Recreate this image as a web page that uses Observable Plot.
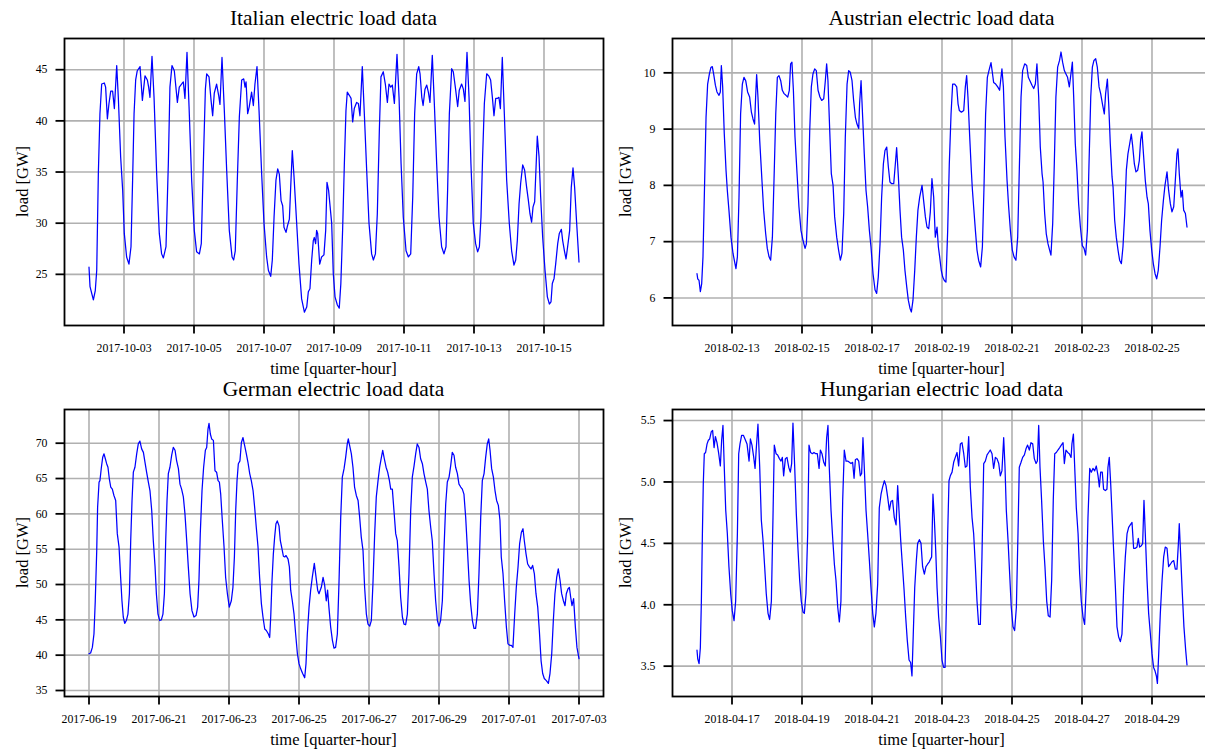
<!DOCTYPE html>
<html>
<head>
<meta charset="utf-8">
<script src="https://cdn.jsdelivr.net/npm/d3@7"></script>
<script src="https://cdn.jsdelivr.net/npm/@observablehq/plot@0.6"></script>
<style>
  html, body { margin: 0; padding: 0; background: #fff; overflow: hidden; }
  #root { position: relative; width: 1205px; height: 750px; overflow: hidden; background: #fff; }
  #root > svg, #root > figure { position: absolute; margin: 0; }
</style>
</head>
<body>
<div id="root"></div>
<script>
// ---------------- DATA (hours since first midnight, load in GW) ----------------
const italyStart = "2017-10-02";
const italyTicks = ["2017-10-03","2017-10-05","2017-10-07","2017-10-09","2017-10-11","2017-10-13","2017-10-15"];
const italyYTicks = [25, 30, 35, 40, 45];
const italyLoad = [[0,25.7],[0.7,23.8],[3,22.5],[4.3,23.4],[5.3,25.4],[6.4,34.8],[7.5,40.7],[8.7,43.6],[10.5,43.7],[11.4,43.3],[12.6,40.2],[13.7,41.7],[14.9,42.9],[16.2,42.9],[17.4,41.2],[19,45.4],[20.1,42.3],[21.7,36.5],[23.1,33.2],[24.2,29.0],[25.8,26.7],[27.4,26.0],[28.8,27.7],[29.9,34.2],[30.9,40.7],[32,44.0],[33.1,44.9],[35,45.3],[36.6,42.0],[38.4,44.4],[40,44.0],[40.9,43.3],[41.8,42.3],[43.2,46.3],[44.6,42.3],[46.4,34.8],[48.2,29.0],[49.8,27.0],[51,26.6],[52.8,27.7],[54.4,35.8],[55.5,43.3],[56.9,45.4],[58.5,44.9],[60.6,41.8],[61.9,43.3],[64,43.7],[64.7,43.8],[65.8,42.2],[67.2,46.7],[68.6,41.4],[70.4,34.2],[72.2,29.3],[73.8,27.2],[75.7,27.0],[77,28.0],[78.4,35.8],[79.8,43.1],[80.7,44.6],[82.3,44.3],[83.7,42.0],[84.8,40.5],[85.9,42.7],[87.5,43.6],[88.9,42.5],[89.8,41.6],[91.2,46.2],[92.8,41.0],[94.4,35.2],[96.2,29.3],[98.1,26.7],[99.2,26.4],[100.3,27.3],[101.7,34.2],[103.1,40.4],[104.7,44.0],[106.1,44.1],[107,43.3],[107.7,43.8],[108.8,40.7],[109.9,41.4],[111.5,42.8],[112.7,41.5],[113.8,43.6],[115.2,45.3],[116.6,41.0],[118.4,34.8],[120,30.0],[121.8,26.7],[123,25.4],[124.6,24.8],[125.7,26.4],[126.9,30.6],[128.2,34.2],[129.4,35.3],[130.5,34.8],[131.7,32.2],[132.8,31.7],[133.7,29.6],[135.1,29.1],[136.2,29.8],[137.4,30.4],[138.3,33.5],[139.4,37.1],[140.6,34.5],[142.4,30.0],[144,26.0],[145.8,22.6],[147.7,21.3],[149.3,21.8],[150.4,23.3],[151.5,23.6],[152.7,26.4],[153.8,28.3],[154.5,28.6],[155.4,28.0],[156.1,29.3],[156.8,29.0],[158.2,26.0],[159.5,26.7],[161.1,26.9],[162.3,29.3],[163.2,34.0],[164.3,33.2],[166.4,30.0],[167.5,25.1],[168.7,22.8],[170.3,22.0],[171.6,21.7],[172.7,24.1],[173.9,29.3],[175.1,35.8],[176.2,41.0],[177.1,42.8],[178.5,42.5],[179.7,42.2],[180.8,39.9],[181.9,41.2],[183.5,41.8],[184.7,41.7],[185.8,40.5],[187.4,45.3],[188.8,40.7],[190.4,35.2],[192,30.0],[193.8,27.0],[195,26.4],[196.4,27.0],[197.7,30.9],[199.1,39.1],[200.2,44.3],[201.8,44.8],[203.2,43.6],[204.6,41.8],[205.7,43.6],[206.9,43.3],[208,43.5],[209.4,41.7],[211.2,46.5],[212.6,42.3],[214,35.8],[215.5,30.6],[217.4,27.3],[219,26.7],[220.6,27.0],[222,32.6],[223.3,40.7],[224.7,44.6],[226.1,45.3],[227,44.6],[228.2,42.3],[229.1,41.5],[230.4,43.1],[231.6,43.5],[232.7,42.8],[233.8,41.8],[235.4,46.4],[236.8,41.7],[238.4,35.8],[240,30.6],[241.8,27.7],[243.4,27.0],[244.8,27.7],[245.9,33.2],[247.1,40.7],[248.7,45.1],[249.8,44.8],[251.2,43.3],[252.8,41.4],[253.9,43.0],[255.5,43.6],[256.7,43.1],[257.8,41.9],[259.2,46.7],[260.6,42.3],[261.9,35.8],[263.5,30.0],[265.1,28.0],[266.5,27.2],[267.7,27.7],[268.8,30.6],[269.9,36.5],[271.1,41.7],[272.7,44.6],[274.1,44.4],[275.4,44.0],[276.6,42.3],[277.7,40.5],[278.9,42.2],[280.2,42.2],[281.1,42.3],[282.1,41.2],[283.4,46.2],[284.8,40.7],[286.4,34.2],[288.2,30.0],[289.8,27.3],[291.4,25.9],[292.6,26.4],[293.7,28.3],[294.9,31.9],[296,33.9],[297.4,35.7],[298.7,35.2],[300.1,33.5],[301.3,32.2],[302.4,30.9],[303.5,30.1],[304.5,31.6],[305.6,32.1],[307.4,38.5],[308.6,36.5],[309.7,32.6],[311.1,28.6],[312.7,25.4],[314.3,22.8],[315.7,22.1],[316.8,22.3],[317.7,24.1],[318.9,24.6],[320,26.0],[321.4,28.0],[322.5,29.0],[323.9,29.4],[324.8,28.3],[326,27.3],[327.1,26.5],[328.2,27.7],[329.6,29.3],[330.7,33.5],[331.9,35.4],[333,33.5],[334.4,30.0],[336,26.2]];

const austriaStart = "2018-02-12";
const austriaTicks = ["2018-02-13","2018-02-15","2018-02-17","2018-02-19","2018-02-21","2018-02-23","2018-02-25"];
const austriaYTicks = [6, 7, 8, 9, 10];
const austriaLoad = [[0,6.43],[0.5,6.34],[1.4,6.31],[2.3,6.11],[3.2,6.25],[4.1,6.73],[5,7.79],[6.2,9.21],[7.3,9.80],[8.5,9.98],[9.6,10.10],[10.5,10.11],[11.4,9.98],[12.6,9.78],[13.7,9.66],[15.1,9.60],[16,9.66],[16.7,10.13],[17.6,9.75],[18.7,8.92],[19.9,8.27],[20.8,7.91],[21.9,7.56],[23.3,7.08],[24.7,6.79],[25.8,6.64],[26.7,6.52],[27.7,6.73],[28.8,7.79],[29.9,9.27],[31.1,9.80],[32.2,9.92],[33.4,9.86],[34.7,9.66],[36.1,9.57],[37.3,9.30],[38.4,9.18],[39.5,9.09],[40.2,9.57],[40.9,9.97],[41.8,9.57],[43,8.80],[44.6,8.06],[45.7,7.56],[47.1,7.14],[48.2,6.88],[49.4,6.73],[50.5,6.67],[51.7,7.08],[52.8,8.09],[54,9.27],[55.1,9.92],[56.2,9.95],[57.4,9.86],[58.5,9.69],[59.7,9.63],[61,9.60],[62.2,9.57],[63.3,9.69],[64.2,10.16],[65.1,10.19],[66.1,9.69],[67.2,8.86],[68.6,8.21],[69.9,7.62],[71.3,7.20],[72.7,7.02],[74.1,6.88],[75,6.96],[76.1,7.67],[77.3,8.98],[78.4,9.75],[79.5,9.98],[80.7,10.07],[81.8,10.04],[83,9.69],[84.3,9.57],[85.5,9.51],[86.9,9.54],[88,9.86],[88.9,10.16],[89.8,9.86],[91,8.98],[92.1,8.21],[93.3,8.00],[94.4,7.44],[95.8,7.08],[97.1,6.85],[98.3,6.67],[99.4,6.79],[100.6,7.50],[101.7,8.86],[102.9,9.80],[104,10.04],[105.1,10.01],[106.3,9.86],[107.4,9.51],[108.6,9.21],[109.7,9.09],[110.9,9.01],[111.5,9.45],[112.5,9.86],[113.6,9.21],[114.7,8.56],[115.9,7.91],[117,7.62],[118.2,7.20],[119.3,6.91],[120.7,6.43],[122.1,6.14],[123.2,6.08],[124.3,6.37],[125.5,6.96],[126.6,7.79],[127.8,8.38],[128.9,8.62],[130.1,8.68],[131.2,8.33],[132.3,8.06],[133.5,8.03],[134.9,8.03],[136,8.38],[136.9,8.67],[138.1,8.15],[139.2,7.56],[140.3,7.08],[141.5,6.85],[142.6,6.49],[143.8,6.20],[144.9,5.96],[146.1,5.81],[147,5.75],[148.1,5.96],[149.3,6.49],[150.4,7.08],[151.5,7.56],[152.7,7.79],[154.3,8.00],[155.4,7.73],[156.6,7.44],[157.7,7.26],[158.9,7.23],[160,7.53],[161.1,8.12],[162.3,7.79],[163.4,7.08],[164.6,7.26],[165.5,6.91],[166.4,6.73],[167.5,6.49],[168.5,6.37],[169.6,6.31],[170.7,6.28],[171.9,7.20],[173,8.38],[174.2,9.27],[175.3,9.80],[176.7,9.80],[178.1,9.75],[179,9.45],[179.9,9.33],[181.3,9.30],[182.9,9.33],[184,9.75],[184.9,9.95],[185.8,9.57],[187,8.86],[188.1,8.27],[188.8,7.94],[189.7,7.62],[190.9,7.20],[192,6.85],[193.1,6.67],[194.5,6.55],[195.7,6.91],[196.8,7.97],[197.9,9.27],[199.1,9.92],[200.2,10.04],[201.6,10.18],[202.5,10.01],[203.4,9.83],[204.8,9.80],[206.2,9.75],[207.5,9.69],[208.2,9.86],[209.1,10.07],[210.1,9.75],[211.2,8.86],[212.6,8.09],[213.7,7.62],[214.9,7.20],[216.2,6.85],[217.4,6.73],[218.7,6.67],[219.9,7.08],[221,8.27],[222.2,9.57],[223.3,10.04],[224.7,10.16],[226.1,10.13],[227.2,9.92],[228.3,9.86],[229.7,9.78],[230.9,9.72],[232,9.80],[233.1,10.16],[234.3,9.57],[235.4,8.68],[236.6,8.21],[237.3,8.06],[238.4,7.50],[239.5,7.14],[240.7,6.96],[241.8,6.85],[242.7,6.76],[243.9,7.32],[245,8.38],[246.1,9.57],[247.3,10.10],[248.6,10.22],[249.6,10.37],[250.7,10.19],[251.9,10.04],[253,9.98],[254.1,9.92],[255.3,9.75],[256.4,9.98],[257.4,10.19],[258.3,9.57],[259.4,8.74],[260.6,8.24],[261.7,7.67],[262.9,7.26],[264.2,6.93],[265.4,6.88],[266.5,6.76],[267.7,7.20],[268.8,8.38],[270,9.57],[271.1,10.10],[272.2,10.22],[273.4,10.25],[274.5,10.10],[275.7,9.75],[276.8,9.63],[278,9.45],[279.3,9.27],[280.2,9.63],[281.4,9.89],[282.3,9.45],[283.4,8.74],[284.6,8.15],[285.3,7.97],[286.4,7.38],[287.5,7.08],[288.7,6.85],[289.8,6.67],[291,6.61],[292.1,6.91],[293.3,7.50],[294.4,8.27],[295.5,8.56],[296.7,8.74],[297.8,8.91],[298.7,8.71],[299.9,8.38],[301,8.24],[302.2,8.27],[303.3,8.44],[304.2,8.80],[305.1,8.95],[306.3,8.50],[307.4,8.09],[308.6,7.79],[309.5,7.67],[310.6,7.20],[311.8,6.85],[312.9,6.61],[314.1,6.43],[315.2,6.34],[316.3,6.49],[317.5,6.91],[318.6,7.38],[319.8,7.73],[320.9,8.00],[322.3,8.24],[323.4,7.91],[324.6,7.67],[325.7,7.53],[326.9,7.62],[328,8.09],[329.1,8.56],[329.8,8.65],[330.7,8.21],[331.9,7.79],[332.8,7.91],[333.7,7.56],[334.9,7.50],[336,7.26]];

const germanyStart = "2017-06-19";
const germanyTicks = ["2017-06-19","2017-06-21","2017-06-23","2017-06-25","2017-06-27","2017-06-29","2017-07-01","2017-07-03"];
const germanyYTicks = [35, 40, 45, 50, 55, 60, 65, 70];
const germanyLoad = [[0,40.2],[1.1,40.3],[2.3,41.1],[3.4,43.0],[4.3,47.7],[5.3,54.8],[5.9,60.9],[6.9,64.5],[7.5,64.7],[8.5,66.6],[9.4,68.0],[10.3,68.5],[11.2,67.8],[12.1,67.1],[13,66.6],[13.9,65.0],[14.9,63.8],[16,63.5],[17.1,62.6],[18.3,61.9],[19.4,57.2],[20.6,55.3],[21.7,51.0],[22.6,47.7],[23.5,45.4],[24.5,44.5],[25.6,44.9],[26.7,45.8],[27.7,48.7],[28.6,56.2],[29.5,61.9],[30.4,65.9],[31.5,66.6],[32.7,68.5],[33.8,69.9],[34.9,70.3],[36.1,69.2],[37.3,68.7],[38.4,67.3],[39.5,65.9],[40.7,64.5],[41.8,63.3],[43,60.5],[44.1,56.2],[45.3,52.5],[46.2,48.7],[47.3,45.8],[48.5,44.9],[49.6,45.0],[50.7,45.8],[51.7,48.7],[52.6,56.2],[53.5,61.9],[54.4,65.7],[55.5,66.6],[56.7,68.3],[57.8,69.4],[59,69.0],[60.1,67.5],[61.3,66.4],[62.4,64.2],[63.5,63.5],[64.7,62.4],[65.8,60.0],[67,56.2],[68.1,52.5],[69.3,48.7],[70.6,46.3],[72,45.4],[73.4,45.6],[74.5,46.8],[75.4,50.6],[76.3,57.2],[77.5,63.3],[78.6,66.6],[79.8,69.0],[80.7,69.4],[81.6,72.0],[82.3,72.8],[83.2,71.3],[84.1,70.6],[85.3,70.4],[86.4,66.1],[87.5,65.9],[88.5,64.7],[89.4,64.5],[90.3,62.8],[91.4,59.1],[92.6,55.3],[93.7,51.0],[94.9,48.7],[96.2,46.8],[97.6,47.7],[98.7,49.6],[99.7,53.9],[100.6,60.5],[101.5,64.7],[102.4,67.1],[103.5,67.5],[104.5,70.1],[105.6,70.8],[106.7,69.7],[107.9,68.5],[109,67.3],[110.2,65.7],[111.3,64.7],[112.5,63.3],[113.6,60.9],[114.7,58.1],[115.9,55.3],[117,51.0],[118.2,47.3],[119.3,45.4],[120.5,43.7],[121.6,43.5],[123,43.0],[123.9,42.5],[124.6,45.4],[125.5,50.6],[126.4,54.3],[127.3,56.7],[128.2,58.6],[129.1,59.0],[130.3,58.3],[131.2,56.2],[132.1,55.3],[133.3,54.0],[134.2,53.9],[135.1,54.1],[136.5,53.6],[137.4,52.5],[138.3,49.2],[139.4,47.7],[140.6,45.8],[141.7,43.0],[142.9,40.2],[144,38.8],[145.1,38.1],[146.5,37.4],[147.9,36.8],[148.8,38.8],[149.7,43.0],[150.9,46.8],[152,49.2],[153.1,51.0],[154.5,53.0],[155.7,51.0],[156.8,49.2],[157.7,48.7],[159.3,49.6],[160.5,51.0],[161.6,49.9],[162.7,47.7],[163.6,49.2],[164.5,46.8],[165.7,44.0],[166.9,42.1],[168,41.0],[169.1,41.1],[170.3,43.0],[171.4,50.1],[172.6,59.5],[173.7,65.2],[174.9,66.4],[176,68.0],[177.1,69.9],[177.8,70.6],[178.7,69.7],[179.9,68.5],[181,66.6],[182.1,63.8],[183.3,62.6],[184.5,61.9],[185.6,59.5],[186.7,56.7],[187.9,54.8],[189,49.6],[190.2,45.8],[191.3,44.4],[192.5,44.1],[193.6,44.9],[194.7,50.1],[195.9,57.2],[197,62.4],[198.2,64.7],[199.3,66.6],[200.5,68.0],[201.4,69.0],[202.5,67.8],[203.7,66.6],[204.8,65.9],[206,64.7],[206.9,63.5],[208,63.5],[209.1,60.5],[210.3,57.2],[211.4,56.2],[212.6,52.5],[213.7,48.2],[214.9,45.4],[216,44.4],[217.1,44.3],[218.3,45.8],[219.4,51.5],[220.6,60.5],[221.7,65.2],[222.9,66.8],[224,68.5],[225.1,69.9],[226.3,69.4],[227.4,67.8],[228.6,67.1],[229.7,65.7],[230.9,64.5],[232,63.5],[233.1,60.5],[234.3,58.1],[235.4,56.2],[236.6,51.5],[237.7,47.7],[238.9,44.9],[240,44.1],[241.1,44.9],[242.3,47.7],[243.4,54.8],[244.6,61.4],[245.7,64.5],[246.9,65.2],[248,66.8],[249.1,68.7],[250.3,68.3],[251.4,66.6],[252.6,65.7],[253.7,64.2],[254.9,63.8],[256,63.5],[257.1,62.8],[258.3,59.5],[259.4,55.3],[260.6,50.6],[261.7,47.3],[262.9,44.9],[264,43.8],[265.1,43.8],[266.3,45.8],[267.4,51.5],[268.6,59.5],[269.7,64.7],[270.9,65.7],[272,68.0],[273.1,69.9],[274.1,70.6],[275,69.0],[276.1,66.4],[277.3,65.2],[278.4,63.3],[279.5,61.9],[280.7,61.2],[281.8,59.1],[282.7,53.9],[283.9,51.5],[285,47.7],[286.2,44.0],[287.3,41.6],[288.5,41.4],[289.6,41.4],[290.7,41.1],[291.9,45.8],[293,49.6],[294.2,52.5],[295.3,55.8],[296.5,57.4],[297.6,57.9],[298.5,56.2],[299.7,54.3],[300.8,52.9],[302,52.5],[303.1,52.2],[304.2,52.7],[305.4,51.5],[306.5,48.7],[307.7,46.8],[308.8,43.5],[310,39.2],[311.1,37.4],[312.2,36.7],[313.6,36.4],[315,36.0],[316.1,37.4],[317.3,40.2],[318.4,44.9],[319.5,48.7],[320.7,51.0],[321.8,52.2],[323,50.6],[324.1,48.7],[325.3,47.7],[326.4,47.0],[327.3,48.7],[328.5,49.4],[329.4,49.6],[330.3,48.2],[331.2,47.0],[332.3,48.0],[333.5,44.0],[334.6,41.1],[336,39.5]];

const hungaryStart = "2018-04-16";
const hungaryTicks = ["2018-04-17","2018-04-19","2018-04-21","2018-04-23","2018-04-25","2018-04-27","2018-04-29"];
const hungaryYTicks = [3.5, 4.0, 4.5, 5.0, 5.5];
const hungaryLoad = [[0,3.63],[0.5,3.56],[1.4,3.52],[2.3,3.65],[3,4.03],[3.7,4.58],[4.3,4.98],[5,5.23],[5.9,5.24],[6.9,5.31],[7.8,5.34],[8.7,5.35],[9.8,5.41],[10.7,5.42],[11.7,5.28],[12.6,5.37],[13.7,5.32],[14.9,5.23],[16,5.13],[16.9,5.34],[17.8,5.46],[18.7,5.12],[19.7,4.77],[20.8,4.58],[21.9,4.31],[23.1,4.09],[24.2,3.95],[25.4,3.87],[26.5,4.03],[27.7,4.58],[28.6,5.23],[29.5,5.31],[30.6,5.38],[31.8,5.38],[32.9,5.35],[34.3,5.31],[35.7,5.17],[36.6,5.35],[37.7,5.30],[38.9,5.20],[39.8,5.11],[40.7,5.28],[41.8,5.47],[43,5.12],[44.1,4.69],[45.3,4.52],[46.4,4.31],[47.5,4.09],[48.7,3.93],[49.8,3.88],[51,4.03],[52.1,4.71],[53,5.30],[54.2,5.23],[55.3,5.22],[56.5,5.19],[57.6,5.17],[58.5,5.20],[59.4,5.05],[60.6,5.19],[61.7,5.20],[62.9,5.12],[64,5.08],[64.9,5.15],[65.8,5.48],[67,5.12],[68.1,4.74],[69.3,4.44],[70.4,4.20],[71.5,4.03],[72.7,3.94],[73.6,3.93],[74.7,4.09],[75.9,4.58],[76.8,5.30],[77.9,5.24],[79.1,5.23],[80.2,5.24],[81.4,5.23],[82.5,5.23],[83.7,5.11],[84.6,5.26],[85.7,5.23],[86.9,5.16],[88,5.13],[88.9,5.36],[89.8,5.46],[90.7,5.12],[91.9,4.77],[93,4.55],[94.2,4.33],[95.3,4.20],[96.5,3.98],[97.6,3.86],[98.7,4.03],[99.9,4.85],[101,5.26],[102.2,5.17],[103.3,5.17],[104.5,5.16],[105.6,5.15],[106.7,5.16],[107.7,5.03],[108.6,5.18],[109.7,5.19],[110.9,5.17],[112,5.05],[112.9,5.07],[113.8,5.36],[114.7,5.12],[115.9,4.77],[117,4.58],[118.2,4.36],[119.3,4.14],[120.5,3.93],[121.6,3.82],[122.7,3.93],[123.9,4.17],[125,4.79],[126.2,4.90],[127.3,4.96],[128.5,5.01],[129.6,4.97],[130.7,4.88],[131.9,4.77],[133,4.84],[134.1,4.85],[135.3,4.71],[136.5,4.65],[137.6,4.97],[138.5,4.77],[139.7,4.52],[140.8,4.33],[142,4.12],[143.1,3.90],[144.2,3.71],[145.4,3.55],[146.5,3.53],[147.4,3.42],[148.3,3.76],[149.3,4.14],[150.4,4.36],[151.3,4.50],[152.5,4.53],[153.6,4.50],[154.7,4.31],[155.9,4.25],[157,4.31],[158.1,4.33],[159.3,4.35],[160.9,4.39],[161.8,4.90],[162.7,4.71],[163.7,4.44],[164.6,4.14],[165.7,3.90],[166.9,3.74],[168,3.55],[169.1,3.49],[170.1,3.49],[171,3.98],[171.9,4.58],[172.8,5.01],[173.7,5.05],[174.9,5.08],[176,5.16],[177.1,5.20],[178.3,5.24],[179.4,5.13],[180.6,5.31],[181.7,5.32],[182.9,5.23],[184,5.12],[185.1,5.13],[186.3,5.37],[187.4,4.96],[188.6,4.71],[189.7,4.58],[190.9,4.31],[192,4.03],[193.1,3.84],[194.3,3.84],[195.4,4.39],[196.6,5.15],[197.7,5.17],[198.9,5.22],[200,5.24],[201.1,5.26],[202.3,5.23],[203.4,5.11],[204.6,5.20],[205.7,5.19],[206.9,5.15],[208,5.05],[209.1,5.09],[210.3,5.36],[211.2,5.12],[212.1,4.77],[213.3,4.52],[214.4,4.25],[215.5,3.98],[216.7,3.82],[217.8,3.79],[219,3.98],[220.1,4.58],[221,5.12],[222.2,5.16],[223.3,5.20],[224.5,5.22],[225.6,5.27],[226.7,5.30],[227.9,5.26],[229,5.32],[230.2,5.31],[231.3,5.19],[232.5,5.15],[233.4,5.17],[234.3,5.46],[235.2,5.12],[236.3,4.85],[237.5,4.52],[238.6,4.31],[239.8,4.03],[240.9,3.91],[242.1,3.90],[243.2,4.20],[244.3,4.85],[245.3,5.23],[246.4,5.24],[247.5,5.26],[248.7,5.28],[249.8,5.30],[251,5.32],[251.9,5.15],[253,5.26],[254.2,5.24],[255.3,5.23],[256.5,5.20],[257.1,5.31],[258.1,5.39],[259,5.12],[260.1,4.79],[261.3,4.58],[262.4,4.25],[263.5,4.03],[264.7,3.90],[265.8,3.84],[267,4.17],[268.1,4.71],[269.3,5.11],[270.4,5.08],[271.5,5.11],[272.7,5.09],[273.8,5.13],[275,5.05],[275.9,4.96],[276.8,5.08],[277.9,5.08],[278.8,4.94],[280,4.93],[281.1,4.94],[281.8,5.12],[282.7,5.20],[283.7,4.98],[284.6,4.74],[285.7,4.44],[286.9,4.14],[288,3.82],[289.1,3.74],[290.3,3.70],[291.4,3.76],[292.6,4.14],[293.7,4.39],[294.9,4.58],[296,4.63],[297.1,4.65],[298.3,4.67],[299.4,4.46],[300.6,4.46],[301.7,4.47],[302.6,4.54],[303.5,4.47],[304.7,4.48],[305.6,4.50],[306.5,4.85],[307.4,4.58],[308.6,4.20],[309.7,3.93],[310.9,3.76],[312,3.60],[313.1,3.49],[314.1,3.46],[315,3.42],[315.7,3.36],[316.6,3.60],[317.7,3.93],[318.9,4.20],[320,4.39],[321.1,4.47],[322.3,4.46],[323.4,4.31],[324.6,4.33],[325.7,4.35],[326.9,4.36],[328,4.29],[329.1,4.29],[330.1,4.50],[330.7,4.66],[331.7,4.39],[332.8,4.09],[333.9,3.82],[335.1,3.63],[336,3.51]];

const titles = ["Italian electric load data", "Austrian electric load data", "German electric load data", "Hungarian electric load data"];
const xLabel = "time [quarter-hour]";
const yLabel = "load [GW]";

// ---------------- RENDER ----------------
const HOUR = 3600e3, DAY = 24 * HOUR;
const root = document.getElementById("root");
const FONT = "'Liberation Serif', 'Times New Roman', Times, serif";

function panel(cfg) {
  const start = new Date(cfg.start).getTime();
  const rows = cfg.load.map(([h, v]) => ({t: new Date(start + h * HOUR), v}));
  const xTicks = cfg.xTicks.map(s => new Date(s));
  const xDomain = [new Date(start - 0.7 * DAY), new Date(start + 14.7 * DAY)];
  const gridStyle = {stroke: "#b0b0b0", strokeOpacity: 1, strokeWidth: 1.6};
  const chart = Plot.plot({
    width: cfg.width, height: cfg.height,
    marginLeft: cfg.ml, marginRight: cfg.mr, marginTop: cfg.mt, marginBottom: cfg.mb,
    style: {fontFamily: FONT, fontSize: "11.8px", color: "black", background: "transparent", overflow: "visible"},
    x: {type: "utc", domain: xDomain},
    y: {domain: cfg.yDomain},
    marks: [
      Plot.gridX(xTicks, gridStyle),
      Plot.gridY(cfg.yTicks, gridStyle),
      Plot.line(rows, {x: "t", y: "v", stroke: "#0000ff", strokeWidth: 1.25}),
      Plot.frame({stroke: "black", strokeWidth: 1.8}),
      Plot.axisX(xTicks, {tickSize: 8.5, tickPadding: 9.3, strokeWidth: 1.8, tickFormat: d3.utcFormat("%Y-%m-%d"), label: null}),
      Plot.axisY(cfg.yTicks, {tickSize: 8.5, tickPadding: 8.5, strokeWidth: 1.8, tickFormat: cfg.yFormat, label: null})
    ]
  });
  chart.style.position = "absolute";
  chart.style.left = cfg.left + "px";
  chart.style.top = cfg.top + "px";
  root.appendChild(chart);
}

panel({start: italyStart, load: italyLoad, xTicks: italyTicks, yTicks: italyYTicks, yDomain: [20.0, 48.05],
  yFormat: d3.format("d"), left: 0, top: 0, width: 605, height: 375, ml: 64, mr: 2, mt: 38, mb: 50});
panel({start: austriaStart, load: austriaLoad, xTicks: austriaTicks, yTicks: austriaYTicks, yDomain: [5.51, 10.61],
  yFormat: d3.format("d"), left: 605, top: 0, width: 610, height: 375, ml: 67, mr: 4, mt: 38, mb: 50});
panel({start: germanyStart, load: germanyLoad, xTicks: germanyTicks, yTicks: germanyYTicks, yDomain: [34.15, 74.77],
  yFormat: d3.format("d"), left: 0, top: 375, width: 605, height: 375, ml: 64, mr: 2, mt: 34, mb: 54});
panel({start: hungaryStart, load: hungaryLoad, xTicks: hungaryTicks, yTicks: hungaryYTicks, yDomain: [3.253, 5.59],
  yFormat: d3.format(".1f"), left: 605, top: 375, width: 610, height: 375, ml: 67, mr: 4, mt: 34, mb: 54});

// text overlay: titles, axis labels
const overlay = d3.select(root).append("svg")
  .attr("width", 1205).attr("height", 750)
  .style("position", "absolute").style("left", "0px").style("top", "0px")
  .style("pointer-events", "none")
  .attr("font-family", FONT);
const centers = [333.5, 941.5, 333.5, 941.5];
const titleBase = [25, 25, 396, 396];
const xLabBase = [374, 374, 745, 745];
const yLabX = [27.5, 631, 27.5, 631];
const yLabY = [181.5, 181.5, 552.5, 552.5];
titles.forEach((t, i) => {
  overlay.append("text").attr("x", centers[i]).attr("y", titleBase[i])
    .attr("text-anchor", "middle").attr("font-size", 21.5).attr("fill", "black").text(t);
  overlay.append("text").attr("x", centers[i]).attr("y", xLabBase[i])
    .attr("text-anchor", "middle").attr("font-size", 16.5).attr("fill", "black").text(xLabel);
  overlay.append("text").attr("transform", `translate(${yLabX[i]},${yLabY[i]}) rotate(-90)`)
    .attr("text-anchor", "middle").attr("font-size", 16.5).attr("fill", "black").text(yLabel);
});
</script>
</body>
</html>
